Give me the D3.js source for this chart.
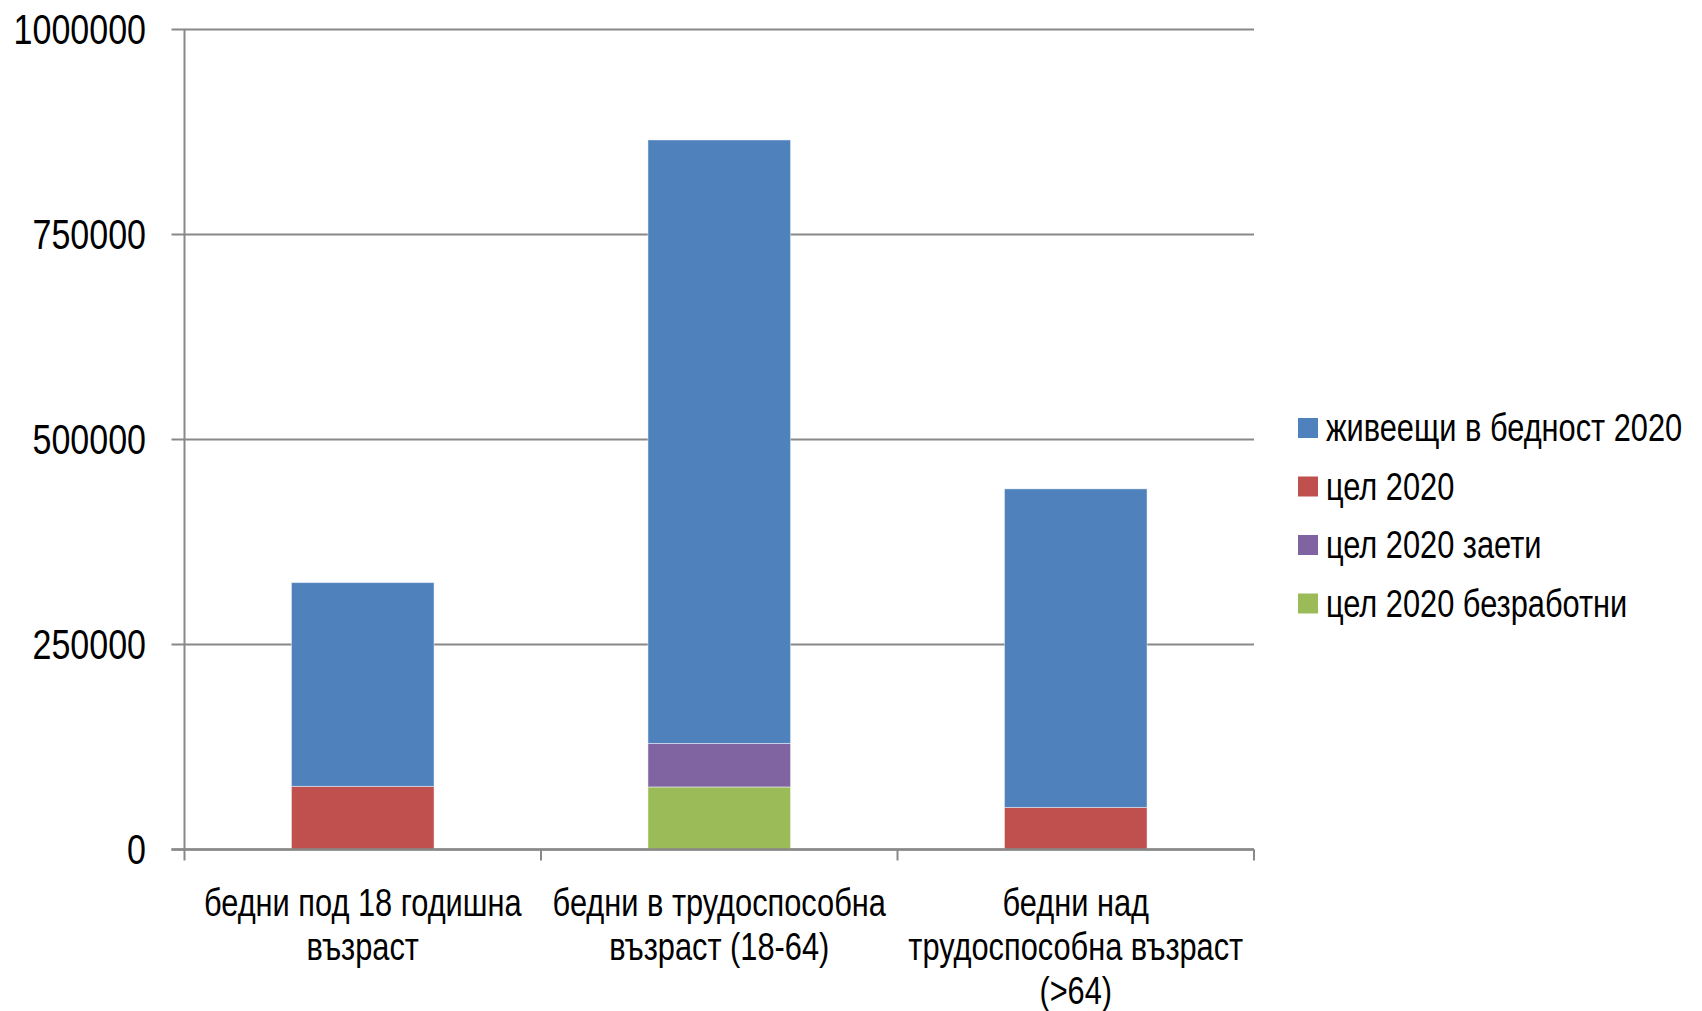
<!DOCTYPE html>
<meta charset="utf-8">
<style>
  body { margin: 0; background: #fff; }
  text { font-family: "Liberation Sans", Arial, sans-serif; fill: #000; }
</style>
<body>
<svg width="1702" height="1011"></svg>
<script src="https://cdn.jsdelivr.net/npm/d3@7"></script>
<script>
  // categories (x axis, split into lines as on the original)
  var categories = ['под18', 'трудоспособна', 'над64'];
  var categoryLines = [
    ['бедни под 18 годишна', 'възраст'],
    ['бедни в трудоспособна', 'възраст (18-64)'],
    ['бедни над', 'трудоспособна възраст', '(>64)']
  ];

  // series, in legend order
  var seriesNames = ['живеещи в бедност 2020', 'цел 2020', 'цел 2020 заети', 'цел 2020 безработни'];
  var seriesColors = ['#4f81bd', '#c0504d', '#8064a2', '#9bbb59'];
  var poor2020 = [248500, 736000, 388500];
  var target2020 = [77000, 0, 51300];
  var targetEmployed = [0, 53000, 0];
  var targetUnemployed = [0, 76300, 0];

  var yTicks = [0, 250000, 500000, 750000, 1000000];

  // the original uses a narrow face; squeeze the regular one
  var squeeze = 0.81;

  var svg = d3.select('svg');
  var margin = {left: 184.5, right: 1254, top: 29.5, bottom: 849.5};

  var x = d3.scaleBand()
    .domain(categories)
    .range([margin.left, margin.right])
    .paddingInner(0)
    .paddingOuter(0);

  var y = d3.scaleLinear()
    .domain([0, 1000000])
    .range([margin.bottom, margin.top]);

  // gridlines + y labels
  var grid = svg.append('g');
  grid.selectAll('line').data(yTicks).enter().append('line')
    .attr('x1', margin.left - 13)
    .attr('x2', margin.right)
    .attr('y1', function (d) { return y(d); })
    .attr('y2', function (d) { return y(d); })
    .attr('stroke', '#888')
    .attr('stroke-width', 2);

  grid.selectAll('g.ylab').data(yTicks).enter().append('g')
    .attr('class', 'ylab')
    .attr('transform', function (d) { return 'translate(146,' + y(d) + ') scale(' + squeeze + ',1)'; })
    .append('text')
    .attr('dy', '0.35em')
    .attr('text-anchor', 'end')
    .style('font-size', '42px')
    .text(function (d) { return d; });

  // stacked bars: bottom of the stack is the last legend entry
  var rows = categories.map(function (c, i) {
    return {
      cat: c,
      s0: poor2020[i],
      s1: target2020[i],
      s2: targetEmployed[i],
      s3: targetUnemployed[i]
    };
  });
  var stack = d3.stack().keys(['s3', 's2', 's1', 's0']);
  var layers = stack(rows);
  var keyColor = {s0: seriesColors[0], s1: seriesColors[1], s2: seriesColors[2], s3: seriesColors[3]};

  var barW = x.bandwidth() * 0.4;
  svg.append('g').selectAll('g').data(layers).enter().append('g')
    .attr('fill', function (d) { return keyColor[d.key]; })
    .selectAll('rect').data(function (d) { return d.filter(function (p) { return p[1] - p[0] > 0; }); })
    .enter().append('rect')
    .attr('x', function (d) { return x(d.data.cat) + (x.bandwidth() - barW) / 2; })
    .attr('width', barW)
    .attr('y', function (d) { return y(d[1]); })
    .attr('height', function (d) { return y(d[0]) - y(d[1]); })
    .attr('stroke', 'rgba(255,255,255,0.45)')
    .attr('stroke-width', 1);

  // axes lines
  svg.append('line')
    .attr('x1', margin.left).attr('x2', margin.left)
    .attr('y1', margin.top).attr('y2', margin.bottom + 11)
    .attr('stroke', '#888').attr('stroke-width', 2);
  svg.append('line')
    .attr('x1', margin.left - 13).attr('x2', margin.right)
    .attr('y1', margin.bottom).attr('y2', margin.bottom)
    .attr('stroke', '#888').attr('stroke-width', 2.5);

  var xTickPos = categories.map(function (c) { return x(c) + x.bandwidth(); });
  svg.append('g').selectAll('line').data(xTickPos).enter().append('line')
    .attr('x1', function (d) { return d; })
    .attr('x2', function (d) { return d; })
    .attr('y1', margin.bottom)
    .attr('y2', margin.bottom + 11)
    .attr('stroke', '#888').attr('stroke-width', 2);

  // category labels
  var catLabel = svg.append('g').selectAll('g').data(categories).enter().append('g')
    .attr('transform', function (d) {
      return 'translate(' + (x(d) + x.bandwidth() / 2) + ',903) scale(' + squeeze + ',1)';
    })
    .append('text')
    .attr('text-anchor', 'middle')
    .style('font-size', '38px');
  catLabel.selectAll('tspan').data(function (d, i) { return categoryLines[i]; }).enter().append('tspan')
    .attr('x', 0)
    .attr('dy', function (d, i) { return i === 0 ? '0.35em' : '1.15em'; })
    .text(function (d) { return d; });

  // legend
  var legend = svg.append('g').selectAll('g').data(seriesNames).enter().append('g')
    .attr('transform', function (d, i) { return 'translate(1298,' + (428 + i * 58.5) + ')'; });
  legend.append('rect')
    .attr('x', 0).attr('y', -10)
    .attr('width', 20).attr('height', 20)
    .attr('fill', function (d, i) { return seriesColors[i]; });
  legend.append('g')
    .attr('transform', 'translate(28,0) scale(' + squeeze + ',1)')
    .append('text')
    .attr('dy', '0.35em')
    .style('font-size', '38px')
    .text(function (d) { return d; });
</script>
</body>
